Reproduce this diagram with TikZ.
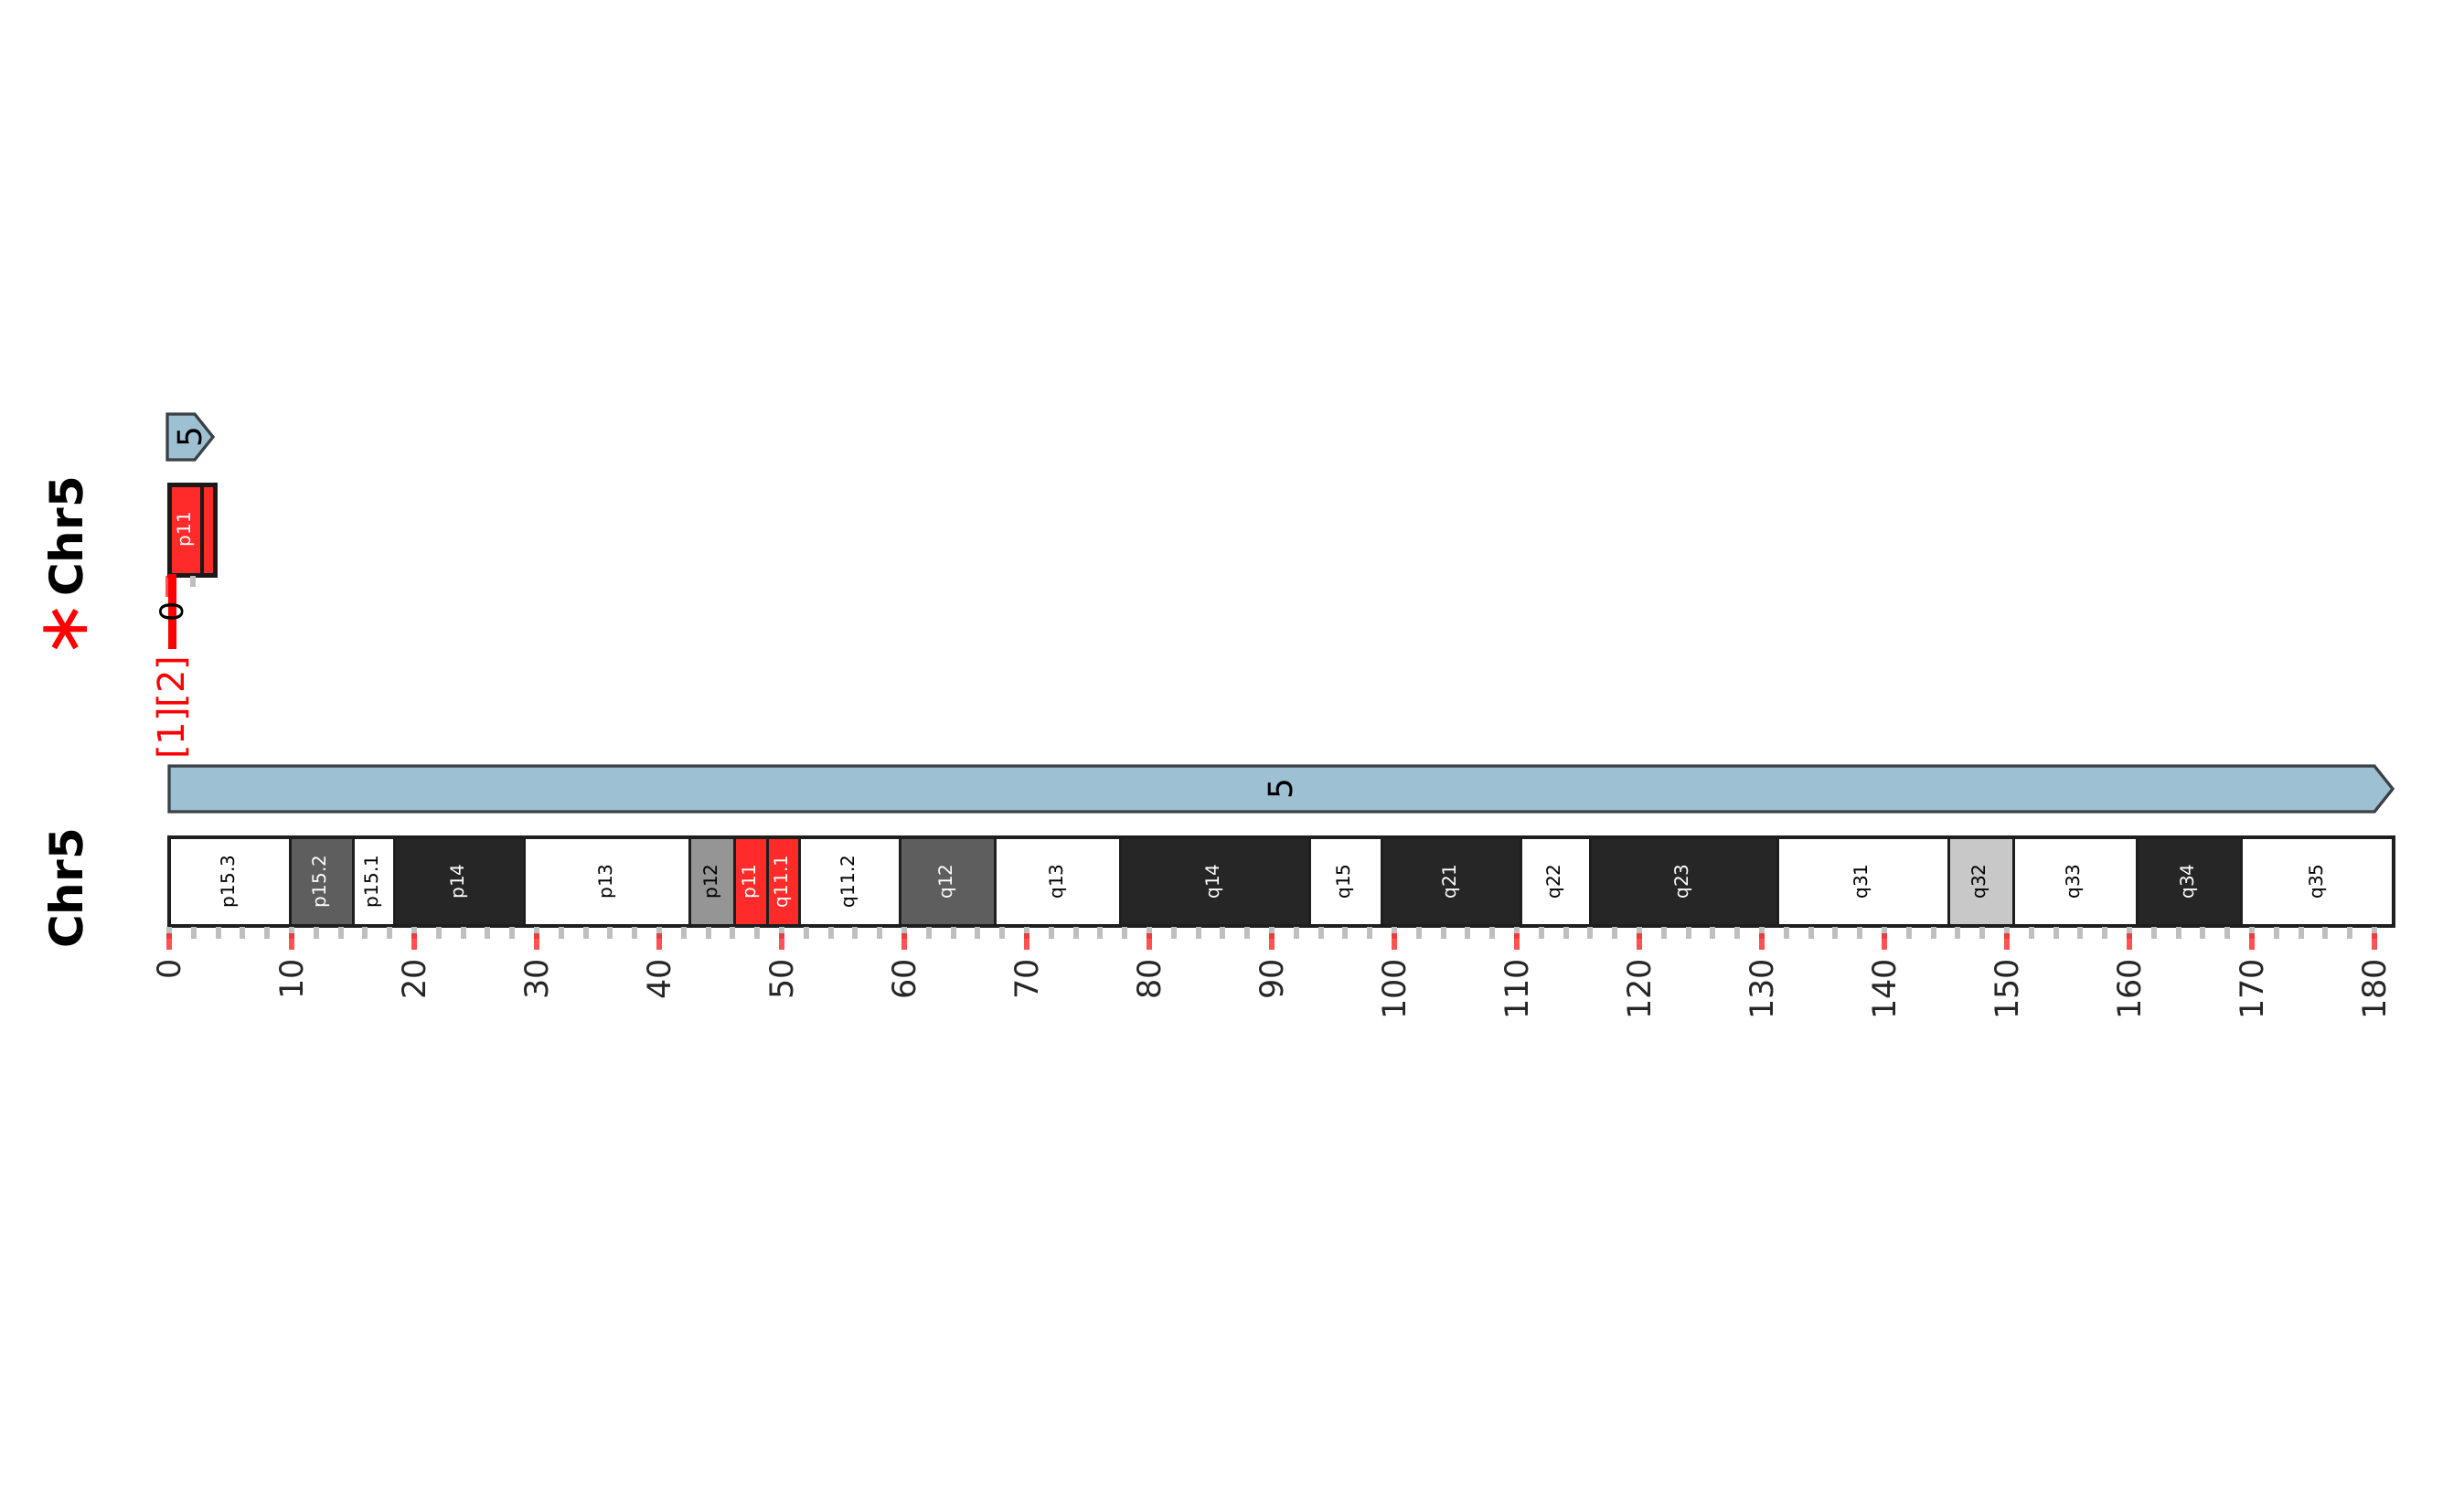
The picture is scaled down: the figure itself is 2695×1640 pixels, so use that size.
\documentclass[tikz,border=0pt]{standalone}
\usepackage{fontspec}
\setmainfont{DejaVu Sans}
\definecolor{bdark}{HTML}{262626}
\definecolor{bgray}{HTML}{5E5E5E}
\definecolor{bmid}{HTML}{959595}
\definecolor{blight}{HTML}{C8C8C8}
\definecolor{bred}{HTML}{FF2A2A}
\definecolor{bblue}{HTML}{9DC1D3}
\definecolor{bblueline}{HTML}{3C4146}
\definecolor{bline}{HTML}{1E1E1E}
\definecolor{tickgrey}{HTML}{BFBFBF}
\definecolor{labdark}{HTML}{262626}
\begin{document}
\begin{tikzpicture}[x=0.25pt,y=-0.25pt,
  bandlab/.style={rotate=90,inner sep=0pt,font=\fontsize{5}{6}\selectfont},
  ticklab/.style={rotate=90,anchor=east,inner sep=0pt,text=labdark,font=\fontsize{8.75}{10}\selectfont},
  minortick/.style={tickgrey,line width=1.5pt},
  majortick/.style={red,opacity=0.68,line width=1.4pt},
  bluebar/.style={fill=bblue,draw=bblueline,line width=0.8pt,line join=miter},
  chrlab/.style={rotate=90,inner sep=0pt,font=\bfseries\fontsize{12.5}{14}\selectfont}]
\useasboundingbox (0,0) rectangle (2695,1640);

% ---- main ideogram bands ----
\foreach \a/\b/\f/\t/\l [count=\i] in {
 185/317/white/black/p15.3, 317/386/bgray/white/p15.2, 386/431/white/black/p15.1,
 431/573/bdark/white/p14, 573/754.5/white/black/p13, 754.5/803/bmid/black/p12,
 803/839/bred/white/p11, 839/874.5/bred/white/q11.1, 874.5/984.5/white/black/q11.2,
 984.5/1088.5/bgray/white/q12, 1088.5/1225/white/black/q13, 1225/1432/bdark/white/q14,
 1432/1511/white/black/q15, 1511/1663/bdark/white/q21, 1663/1739/white/black/q22,
 1739/1944/bdark/white/q23, 1944/2131/white/black/q31, 2131/2202/blight/black/q32,
 2202/2337/white/black/q33, 2337/2451.5/bdark/white/q34, 2451.5/2618/white/black/q35}{
  \filldraw[fill=\f,draw=bline,line width=0.75pt] (\a,916) rectangle (\b,1013);
  \node[bandlab,text=\t] (band\i) at ({(\a+\b)/2},964.5) {\l};
}
\draw[bline,line width=0.85pt] (185,916) rectangle (2618,1013);

% ---- ticks ----
\foreach \v in {0,2,...,180}
  \draw[minortick] ({185+13.4*\v},1014) -- ++(0,13);
\foreach \v in {0,10,...,180}{
  \draw[majortick] ({185+13.4*\v},1021) -- ++(0,18);
  \node[ticklab] (tl\v) at ({185+13.4*\v},1048) {\v};
}

% ---- main blue arrow ----
\draw[bluebar] (185,838) -- (2597,838) -- (2617,863) -- (2597,888) -- (185,888) -- cycle;
\node[rotate=90,inner sep=0pt,font=\fontsize{9}{10}\selectfont] (bigfive) at (1401,863) {5};

% ---- labels ----
\node[chrlab] (chrmain) at (72,972) {Chr5};
\node[chrlab] (chrtop) at (72,587) {Chr5};
\node[rotate=90,inner sep=0pt,text=red,font=\fontsize{19}{21}\selectfont] (star) at (72,689) {∗};

% ---- small view ----
\draw[bluebar] (183,453) -- (213,453) -- (233,478) -- (213,503) -- (183,503) -- cycle;
\node[rotate=90,inner sep=0pt,font=\fontsize{9}{10}\selectfont] (smallfive) at (208,478) {5};

\fill[bred] (185,530) rectangle (235,629);
\draw[black!90,line width=1.25pt] (185,530) rectangle (235,629);
\draw[black!90,line width=1.1pt] (221,530) -- (221,629);
\node[bandlab,text=white] (smallp) at (203,579) {p11};

\draw[minortick] (211,630) -- (211,642);
\draw[majortick] (183.5,630) -- (183.5,653);
\coordinate (rtop) at (188.5,628);
\coordinate (rbot) at (188.5,710);
\draw[red,line width=2.25pt] (rtop) -- (rbot);
\node[rotate=90,inner sep=0pt,text=black,font=\fontsize{8.75}{10}\selectfont] (zero) at (188,669) {0};
\node[rotate=90,inner sep=0pt,text=red,font=\fontsize{10}{12}\selectfont] (refs) at (189,774) {[1][2]};
\end{tikzpicture}
\end{document}
